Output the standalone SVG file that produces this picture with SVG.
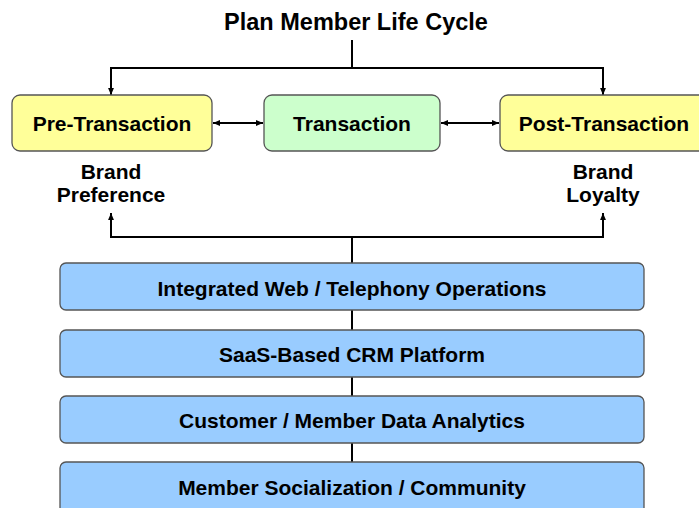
<svg xmlns="http://www.w3.org/2000/svg" width="699" height="508" viewBox="0 0 699 508">
<style>
text{font-family:"Liberation Sans",Arial,sans-serif;font-weight:bold;fill:#000;text-anchor:middle}
.lbl{font-size:21px}
.big{font-size:21px}
.box{stroke:#555;stroke-width:1.3}
.y{fill:#FFFF99}.g{fill:#CCFFCC}.b{fill:#99CCFF}
.c{stroke:#000;stroke-width:2;fill:none}
</style>
<defs>
<marker id="ah" viewBox="0 0 10 10" refX="10" refY="5" markerWidth="7" markerHeight="7" orient="auto-start-reverse" markerUnits="userSpaceOnUse">
<path d="M0,0.8L10,5L0,9.2z" fill="#000"/>
</marker>
</defs>
<rect width="699" height="508" fill="#fff"/>
<text x="356" y="30" style="font-size:23.5px">Plan Member Life Cycle</text>
<g id="connectors">
<path class="c" d="M352,40V68"/>
<path class="c" d="M111,95V68H603V95" marker-start="url(#ah)" marker-end="url(#ah)"/>
<path class="c" d="M213,123H263" marker-start="url(#ah)" marker-end="url(#ah)"/>
<path class="c" d="M441,123H499" marker-start="url(#ah)" marker-end="url(#ah)"/>
<path class="c" d="M111,213V237H603V213" marker-start="url(#ah)" marker-end="url(#ah)"/>
<path class="c" d="M352,237V263"/>
<path class="c" d="M352,310V330"/>
<path class="c" d="M352,377V396"/>
<path class="c" d="M352,443V462"/>
</g>
<g id="pre"><rect class="box y" x="12" y="95" width="200" height="56" rx="8"/><text class="lbl" x="112" y="131">Pre-Transaction</text></g>
<g id="trans"><rect class="box g" x="264" y="95" width="176" height="56" rx="8"/><text class="lbl" x="352" y="131">Transaction</text></g>
<g id="post"><rect class="box y" x="500" y="95" width="210" height="56" rx="8"/><text class="lbl" x="604" y="131">Post-Transaction</text></g>
<g id="pref"><text class="big" x="111" y="179">Brand</text><text class="big" x="111" y="202">Preference</text></g>
<g id="loyal"><text class="big" x="603" y="179">Brand</text><text class="big" x="603" y="202">Loyalty</text></g>
<g id="l1"><rect class="box b" x="60" y="263" width="584" height="47" rx="6"/><text class="big" x="352" y="296">Integrated Web / Telephony Operations</text></g>
<g id="l2"><rect class="box b" x="60" y="330" width="584" height="47" rx="6"/><text class="big" x="352" y="362">SaaS-Based CRM Platform</text></g>
<g id="l3"><rect class="box b" x="60" y="396" width="584" height="47" rx="6"/><text class="big" x="352" y="428">Customer / Member Data Analytics</text></g>
<g id="l4"><rect class="box b" x="60" y="462" width="584" height="56" rx="6"/><text class="big" x="352" y="495">Member Socialization / Community</text></g>
</svg>
